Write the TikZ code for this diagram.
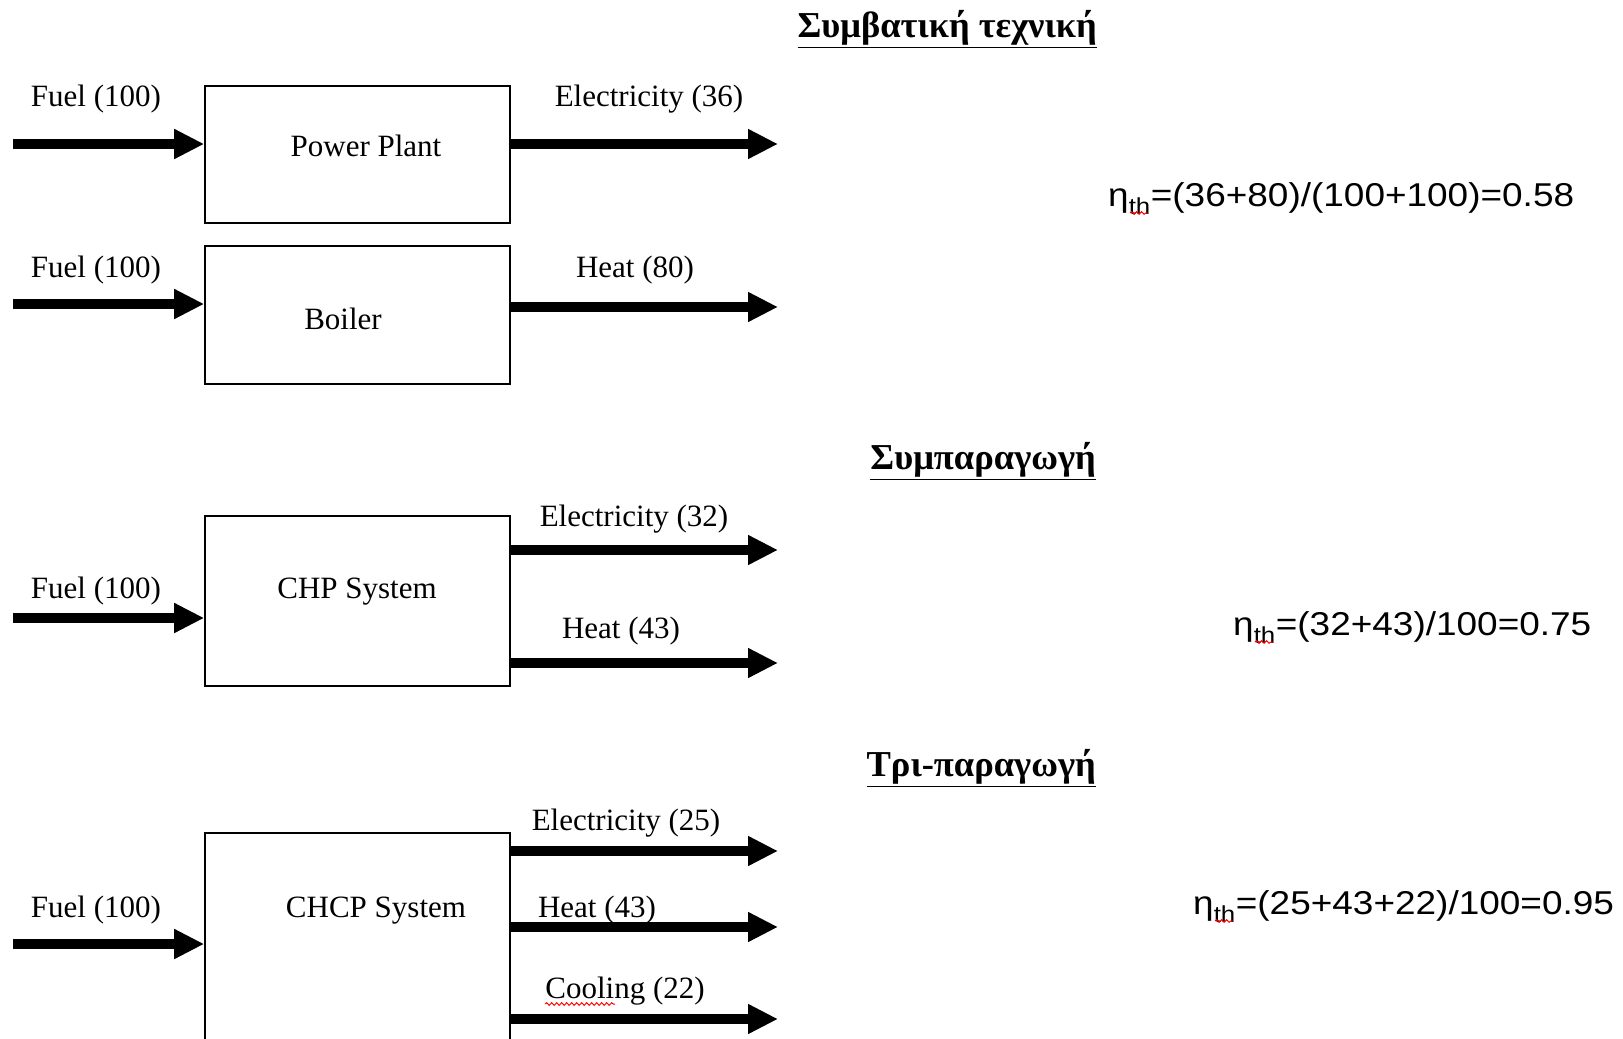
\documentclass[tikz,border=0pt]{standalone}
\usepackage{fontspec}
\setmainfont{Liberation Serif}
\newfontfamily\formfont[FakeStretch=1.12]{Liberation Sans}
\usetikzlibrary{arrows.meta,calc,decorations.pathmorphing}
\begin{document}
\begin{tikzpicture}[x=1pt,y=-1pt,
 box/.style={draw,line width=1.6pt,minimum width=305pt,inner sep=0pt},
 flow/.style={line width=10pt,-{Triangle[length=30pt,width=28pt]}},
 lbl/.style={font=\fontsize{31}{36}\selectfont,inner sep=0pt},
 head/.style={font=\fontsize{36.5}{42}\selectfont\bfseries,inner sep=0pt,anchor=east},
 form/.style={font=\formfont\fontsize{33}{38}\selectfont,inner sep=0pt,anchor=west},
 spell/.style={red,line width=1pt,decorate,decoration={snake,amplitude=1.3pt,segment length=5pt}}]
\useasboundingbox (0,0) rectangle (1623,1039);
\clip (0,0) rectangle (1623,1039);
\fill[white] (0,0) rectangle (1623,1039);

% headings
\node[head] (h1) at (1097,29) {\underline{Συμβατική τεχνική}};
\node[head] (h2) at (1096,461) {\underline{Συμπαραγωγή}};
\node[head] (h3) at (1096,768) {\underline{Τρι-παραγωγή}};

% boxes
\node[box,minimum height=137pt] (pp) at (357.5,154.5) {};
\node[box,minimum height=138pt] (bo) at (357.5,315) {};
\node[box,minimum height=170pt] (chp) at (357.5,601) {};
\node[box,minimum height=237pt] (chcp) at (357.5,951.5) {};

% box texts
\node[lbl] (tpp) at (366,146) {Power Plant};
\node[lbl] (tbo) at (343,319) {Boiler};
\node[lbl] (tchp) at (357,592) {CHP System};
\node[lbl] (tchcp) at (376,911) {CHCP System};

% input coordinates
\coordinate (i1) at (13,144);
\coordinate (i2) at (13,304);
\coordinate (i3) at (13,618);
\coordinate (i4) at (13,944);
\draw[flow] (i1) -- (i1 -| pp.west);
\draw[flow] (i2) -- (i2 -| bo.west);
\draw[flow] (i3) -- (i3 -| chp.west);
\draw[flow] (i4) -- (i4 -| chcp.west);

% output coordinates
\coordinate (o1) at (778,144);
\coordinate (o2) at (778,307);
\coordinate (o3) at (778,550);
\coordinate (o4) at (778,663);
\coordinate (o5) at (778,851);
\coordinate (o6) at (778,927);
\coordinate (o7) at (778,1019);
\draw[flow] (o1 -| pp.east) -- (o1);
\draw[flow] (o2 -| bo.east) -- (o2);
\draw[flow] (o3 -| chp.east) -- (o3);
\draw[flow] (o4 -| chp.east) -- (o4);
\draw[flow] (o5 -| chcp.east) -- (o5);
\draw[flow] (o6 -| chcp.east) -- (o6);
\draw[flow] (o7 -| chcp.east) -- (o7);

% arrow labels
\node[lbl] (l1) at (96,99) {Fuel (100)};
\node[lbl] (l2) at (96,270) {Fuel (100)};
\node[lbl] (l3) at (96,591) {Fuel (100)};
\node[lbl] (l4) at (96,910) {Fuel (100)};
\node[lbl] (e1) at (649,99) {Electricity (36)};
\node[lbl] (e2) at (635,270) {Heat (80)};
\node[lbl] (e3) at (634,519) {Electricity (32)};
\node[lbl] (e4) at (621,631) {Heat (43)};
\node[lbl] (e5) at (626,823) {Electricity (25)};
\node[lbl] (e6) at (597,910) {Heat (43)};
\node[lbl] (e7) at (625,991) {Cooling (22)};

% formulas
\node[form] (f1) at (1108,199) {η\textsubscript{th}=(36+80)/(100+100)=0.58};
\node[form] (f2) at (1233,628) {η\textsubscript{th}=(32+43)/100=0.75};
\node[form] (f3) at (1193,907) {η\textsubscript{th}=(25+43+22)/100=0.95};

% spell-check marks
\draw[spell] ($(f1.west)+(22,14)$) -- ++(18,0);
\draw[spell] ($(f2.west)+(22,14)$) -- ++(18,0);
\draw[spell] ($(f3.west)+(22,14)$) -- ++(18,0);
\draw[spell] ($(e7.west)+(0,13)$) -- ++(70,0);
\end{tikzpicture}
\end{document}
